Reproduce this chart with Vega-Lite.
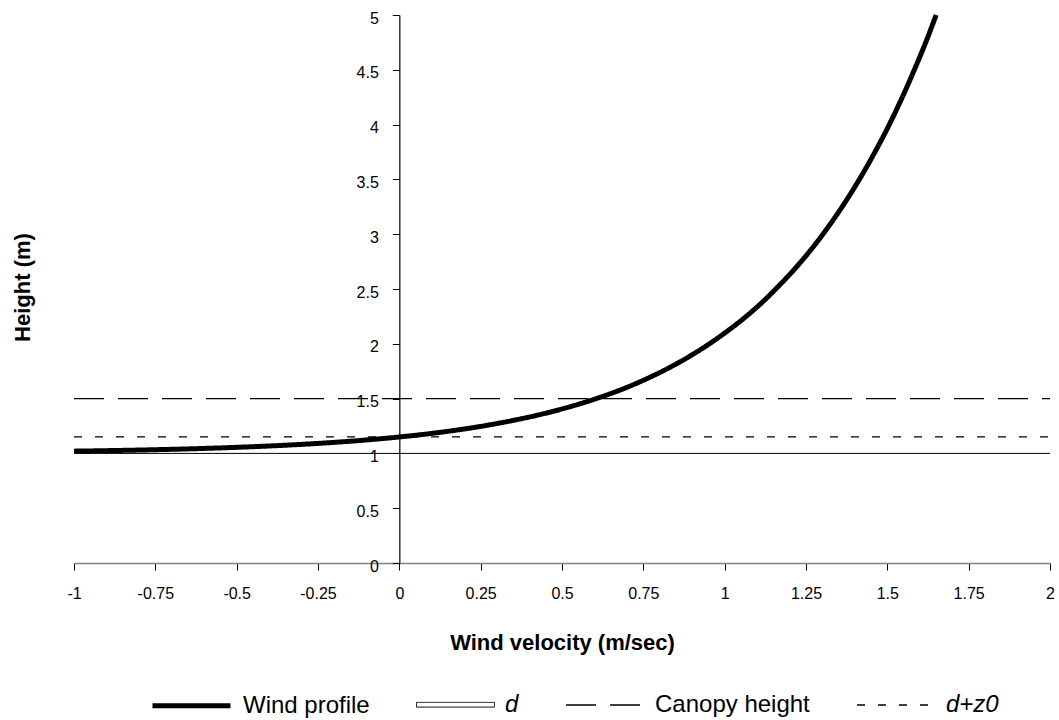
{
  "$schema": "https://vega.github.io/schema/vega-lite/v6.json",
  "width": 976,
  "height": 548,
  "autosize": {"type": "none"},
  "padding": {"left": 74, "top": 15, "right": 9, "bottom": 157},
  "config": {
    "view": {"stroke": null},
    "font": "Liberation Sans",
    "axis": {"grid": false, "labelColor": "black", "titleColor": "black", "tickColor": "black", "labelFont": "Liberation Sans", "titleFont": "Liberation Sans"},
    "legend": {"orient": "none", "legendX": 76, "legendY": 649, "direction": "horizontal", "title": null, "symbolType": "stroke", "symbolSize": 6084, "labelFontSize": 24, "labelFont": "Liberation Sans", "labelColor": "black", "columnPadding": 44, "labelOffset": 10}
  },
  "datasets": {
    "profile": [
      {"u": -1.0, "z": 1.0205, "series": "Wind profile"},
      {"u": -0.9, "z": 1.025, "series": "Wind profile"},
      {"u": -0.809, "z": 1.03, "series": "Wind profile"},
      {"u": -0.731, "z": 1.035, "series": "Wind profile"},
      {"u": -0.664, "z": 1.04, "series": "Wind profile"},
      {"u": -0.605, "z": 1.045, "series": "Wind profile"},
      {"u": -0.552, "z": 1.05, "series": "Wind profile"},
      {"u": -0.461, "z": 1.06, "series": "Wind profile"},
      {"u": -0.383, "z": 1.07, "series": "Wind profile"},
      {"u": -0.316, "z": 1.08, "series": "Wind profile"},
      {"u": -0.257, "z": 1.09, "series": "Wind profile"},
      {"u": -0.204, "z": 1.1, "series": "Wind profile"},
      {"u": -0.156, "z": 1.11, "series": "Wind profile"},
      {"u": -0.112, "z": 1.12, "series": "Wind profile"},
      {"u": -0.072, "z": 1.13, "series": "Wind profile"},
      {"u": 0.0, "z": 1.15, "series": "Wind profile"},
      {"u": 0.145, "z": 1.2, "series": "Wind profile"},
      {"u": 0.257, "z": 1.25, "series": "Wind profile"},
      {"u": 0.348, "z": 1.3, "series": "Wind profile"},
      {"u": 0.426, "z": 1.35, "series": "Wind profile"},
      {"u": 0.493, "z": 1.4, "series": "Wind profile"},
      {"u": 0.552, "z": 1.45, "series": "Wind profile"},
      {"u": 0.605, "z": 1.5, "series": "Wind profile"},
      {"u": 0.697, "z": 1.6, "series": "Wind profile"},
      {"u": 0.774, "z": 1.7, "series": "Wind profile"},
      {"u": 0.841, "z": 1.8, "series": "Wind profile"},
      {"u": 0.9, "z": 1.9, "series": "Wind profile"},
      {"u": 0.953, "z": 2.0, "series": "Wind profile"},
      {"u": 1.001, "z": 2.1, "series": "Wind profile"},
      {"u": 1.066, "z": 2.25, "series": "Wind profile"},
      {"u": 1.123, "z": 2.4, "series": "Wind profile"},
      {"u": 1.157, "z": 2.5, "series": "Wind profile"},
      {"u": 1.235, "z": 2.75, "series": "Wind profile"},
      {"u": 1.302, "z": 3.0, "series": "Wind profile"},
      {"u": 1.361, "z": 3.25, "series": "Wind profile"},
      {"u": 1.414, "z": 3.5, "series": "Wind profile"},
      {"u": 1.462, "z": 3.75, "series": "Wind profile"},
      {"u": 1.506, "z": 4.0, "series": "Wind profile"},
      {"u": 1.546, "z": 4.25, "series": "Wind profile"},
      {"u": 1.583, "z": 4.5, "series": "Wind profile"},
      {"u": 1.618, "z": 4.75, "series": "Wind profile"},
      {"u": 1.65, "z": 5.0, "series": "Wind profile"}
    ],
    "refs": [
      {"u": -1, "z": 1, "series": "d"},
      {"u": 2, "z": 1, "series": "d"},
      {"u": -1, "z": 1.5, "series": "Canopy height"},
      {"u": 2, "z": 1.5, "series": "Canopy height"},
      {"u": -1, "z": 1.15, "series": "d+z0"},
      {"u": 2, "z": 1.15, "series": "d+z0"}
    ]
  },
  "encoding": {
    "x": {
      "field": "u", "type": "quantitative",
      "scale": {"domain": [-1, 2], "nice": false, "zero": false},
      "axis": {
        "title": "Wind velocity (m/sec)",
        "values": [-1, -0.75, -0.5, -0.25, 0, 0.25, 0.5, 0.75, 1, 1.25, 1.5, 1.75, 2],
        "format": ".2~f",
        "labelExpr": "replace(datum.label, '\u2212', '-')",
        "domainColor": "#808080",
        "domainWidth": 1.5,
        "tickSize": 7,
        "tickWidth": 1,
        "labelPadding": 15,
        "labelFontSize": 16,
        "labelFlush": false,
        "labelOverlap": false,
        "titleFontSize": 22,
        "titleFontWeight": "bold",
        "titlePadding": 31
      }
    },
    "y": {
      "field": "z", "type": "quantitative",
      "scale": {"domain": [0, 5], "nice": false},
      "axis": {
        "title": "Height (m)",
        "offset": -325.33,
        "values": [0, 0.5, 1, 1.5, 2, 2.5, 3, 3.5, 4, 4.5, 5],
        "format": ".1~f",
        "domainColor": "black",
        "domainWidth": 1.2,
        "tickSize": 7,
        "labelPadding": 14,
        "labelOffset": 3,
        "labelFontSize": 16,
        "labelFlush": false,
        "labelOverlap": false,
        "titleFontSize": 22,
        "titleFontWeight": "bold",
        "titleX": -377,
        "titleY": 272,
        "titleAngle": -90,
        "titleAlign": "center",
        "titleBaseline": "middle"
      }
    },
    "color": {
      "field": "series", "type": "nominal",
      "scale": {"domain": ["Wind profile", "d", "Canopy height", "d+z0"], "range": ["black", "black", "black", "black"]},
      "legend": {
        "encode": {
          "labels": {"update": {"fontStyle": {"signal": "datum.value == 'd' || datum.value == 'd+z0' ? 'italic' : 'normal'"}}},
          "symbols": {"update": {"shape": {"signal": "datum.value == 'd' ? 'M-1,-0.06H1V0.06H-1Z' : 'stroke'"}, "fill": {"value": "transparent"}, "stroke": {"signal": "datum.value == 'd' ? '#555555' : 'black'"}}}
        }
      }
    },
    "strokeDash": {
      "field": "series", "type": "nominal",
      "scale": {"domain": ["Wind profile", "d", "Canopy height", "d+z0"], "range": [[1, 0], [1, 0], [30, 14], [8, 13]]}
    },
    "strokeWidth": {
      "field": "series", "type": "ordinal",
      "scale": {"type": "ordinal", "domain": ["Wind profile", "d", "Canopy height", "d+z0"], "range": [5, 1, 1.3, 1.3]}
    }
  },
  "layer": [
    {"data": {"name": "refs"}, "mark": {"type": "line"}},
    {"data": {"name": "profile"}, "mark": {"type": "line", "interpolate": "monotone", "strokeCap": "butt"}}
  ]
}
